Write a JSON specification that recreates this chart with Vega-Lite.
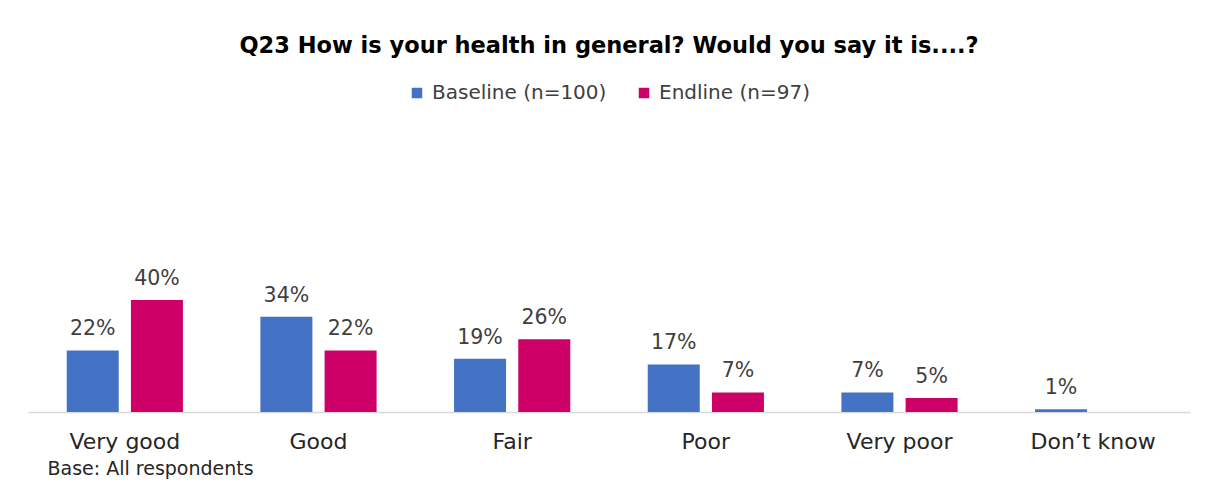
{
  "$schema": "https://vega.github.io/schema/vega-lite/v6.json",
  "autosize": "none",
  "width": 1162,
  "height": 280,
  "padding": {"left": 28, "top": 132, "right": 15, "bottom": 69},
  "background": "white",
  "title": {
    "text": "Q23 How is your health in general? Would you say it is....?",
    "font": "DejaVu Sans",
    "fontSize": 22.5,
    "fontWeight": "bold",
    "color": "#000000",
    "anchor": "middle",
    "baseline": "middle",
    "offset": 15
  },
  "data": {
    "values": [
      {"category": "Very good", "wave": "Baseline (n=100)", "value": 0.22},
      {"category": "Very good", "wave": "Endline (n=97)", "value": 0.40},
      {"category": "Good", "wave": "Baseline (n=100)", "value": 0.34},
      {"category": "Good", "wave": "Endline (n=97)", "value": 0.22},
      {"category": "Fair", "wave": "Baseline (n=100)", "value": 0.19},
      {"category": "Fair", "wave": "Endline (n=97)", "value": 0.26},
      {"category": "Poor", "wave": "Baseline (n=100)", "value": 0.17},
      {"category": "Poor", "wave": "Endline (n=97)", "value": 0.07},
      {"category": "Very poor", "wave": "Baseline (n=100)", "value": 0.07},
      {"category": "Very poor", "wave": "Endline (n=97)", "value": 0.05},
      {"category": "Don’t know", "wave": "Baseline (n=100)", "value": 0.01}
    ]
  },
  "encoding": {
    "x": {
      "field": "category",
      "type": "nominal",
      "sort": null,
      "scale": {"paddingInner": 0.4, "paddingOuter": 0.2},
      "axis": {
        "title": "Base: All respondents",
        "titleAnchor": "start",
        "titleAlign": "left",
        "titleX": 19,
        "titleY": 56,
        "titleBaseline": "middle",
        "titleFont": "DejaVu Sans",
        "titleFontSize": 19,
        "titleFontWeight": "normal",
        "titleColor": "#262626",
        "labelAngle": 0,
        "labelFont": "DejaVu Sans",
        "labelFontSize": 22,
        "labelColor": "#262626",
        "labelPadding": 19,
        "ticks": false,
        "domainColor": "#D9D9D9",
        "domainWidth": 1.5
      }
    },
    "xOffset": {
      "field": "wave",
      "type": "nominal",
      "scale": {"paddingInner": 0.19, "paddingOuter": 0}
    },
    "y": {
      "field": "value",
      "type": "quantitative",
      "scale": {"domain": [0, 1]},
      "axis": null
    }
  },
  "layer": [
    {
      "mark": {"type": "bar"},
      "encoding": {
        "color": {
          "field": "wave",
          "type": "nominal",
          "scale": {"domain": ["Baseline (n=100)", "Endline (n=97)"], "range": ["#4472C4", "#CC0066"]},
          "legend": {
            "title": null,
            "orient": "none",
            "direction": "horizontal",
            "legendX": 379,
            "legendY": -49,
            "symbolType": "square",
            "symbolSize": 110,
            "symbolStrokeWidth": 0,
            "labelFont": "DejaVu Sans",
            "labelFontSize": 20,
            "labelColor": "#404040",
            "labelLimit": 400,
            "columnPadding": 27,
            "labelOffset": 5
          }
        }
      }
    },
    {
      "mark": {"type": "text", "dy": -11, "font": "DejaVu Sans", "fontSize": 20.5, "color": "#404040", "baseline": "bottom"},
      "encoding": {
        "text": {"field": "value", "type": "quantitative", "format": ".0%"},
        "detail": {"field": "wave"}
      }
    }
  ],
  "config": {
    "view": {"stroke": null}
  }
}
